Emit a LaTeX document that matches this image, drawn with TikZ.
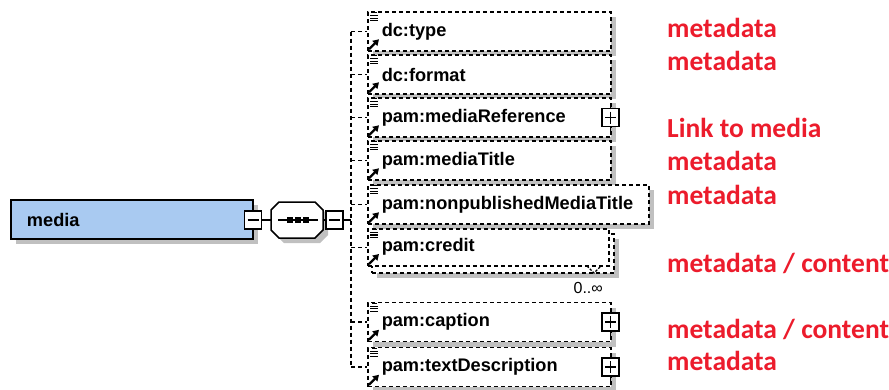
\documentclass[tikz,border=0pt]{standalone}
\usepackage{fontspec}
\setmainfont{Liberation Sans}
\newfontfamily\redfont{Carlito}
\usetikzlibrary{shadows,arrows.meta}
\definecolor{mediablue}{RGB}{169,202,241}
\definecolor{shadowgray}{RGB}{192,192,192}
\definecolor{notered}{RGB}{236,28,44}
\begin{document}
\begin{tikzpicture}[x=1pt,y=-1pt,
  shad/.style={drop shadow={shadow xshift=5pt,shadow yshift=-5pt,fill=shadowgray,opacity=1}},
  kid/.style={draw, fill=white, line width=1.5pt, dash pattern=on 4pt off 3pt,
    minimum height=39pt, text width=#1, inner xsep=14pt, inner ysep=0pt, align=left,
    anchor=west, font=\fontsize{18.2}{20}\selectfont\bfseries},
  mediabox/.style={draw, fill=mediablue, line width=1.8pt, minimum height=39pt,
    text width=210pt, inner xsep=16pt, inner ysep=0pt, align=left,
    font=\fontsize{18.2}{20}\selectfont\bfseries, shad},
  minusbox/.style={draw, fill=white, line width=1.5pt, minimum width=17pt, minimum height=18pt, inner sep=0pt,
    path picture={\draw[line width=1.4pt] ([xshift=3pt]path picture bounding box.west) -- ([xshift=-3pt]path picture bounding box.east);}},
  plusbox/.style={minusbox,
    path picture={\draw[line width=1.4pt] ([xshift=3pt]path picture bounding box.west) -- ([xshift=-3pt]path picture bounding box.east);
      \draw[line width=1.4pt] ([yshift=-3pt]path picture bounding box.north) -- ([yshift=3pt]path picture bounding box.south);}},
  conn/.style={line width=1.4pt, dash pattern=on 4pt off 3pt},
  solidln/.style={line width=1.5pt},
  redlbl/.style={anchor=base west, inner sep=0pt, text=notered, font=\redfont\bfseries\fontsize{27.5}{30}\selectfont},
]
\useasboundingbox (0,0) rectangle (889,389);

% root element
\node[mediabox] (media) at (132,219.5) {media};
\node[minusbox] (m1) at (253,220) {};

% sequence compositor
\fill[shadowgray] (284,207) -- (320,207) -- (328,215) -- (328,235) -- (320,243) -- (284,243) -- (276,235) -- (276,215) -- cycle;
\draw[solidln, fill=white] (279,202) -- (315,202) -- (323,210) -- (323,230) -- (315,238) -- (279,238) -- (271,230) -- (271,210) -- cycle;
\node[minimum width=52pt, minimum height=36pt, inner sep=0pt] (seq) at (297,220) {};
\draw[solidln] (278,220) -- (318,220);
\foreach \xx in {290,298,306} \fill (\xx-3,217) rectangle (\xx+3,223);
\node[minusbox] (m2) at (334.5,220) {};
\coordinate (hub) at (351,220);

\draw[solidln] (m1.east) -- (seq.west);
\draw[solidln] (seq.east) -- (m2.west);
\draw[solidln] (m2.east) -- (hub);

% children
\node[kid=215pt, shad] (t1) at (367,31.5) {dc:type};
\node[kid=215pt, shad] (t2) at (367,74.5) {dc:format};
\node[kid=215pt, shad] (t3) at (367,117.5) {pam:mediaReference};
\node[kid=215pt, shad] (t4) at (367,160.5) {pam:mediaTitle};
\node[kid=253pt, shad] (t5) at (367,204.5) {pam:nonpublishedMediaTitle};
\node[kid=214pt, shad, anchor=north west] (cb) at (371,233) {};
\node[kid=213pt, anchor=north west, minimum height=37pt] (cf) at (367,228) {pam:credit};
\node[kid=215pt, shad] (t7) at (367,322) {pam:caption};
\node[kid=215pt, shad] (t8) at (367,367) {pam:textDescription};

% multiplicity
\draw[conn, line width=1.2pt, dash pattern=on 2.5pt off 1.5pt] (587,266) -- (594,273) -- (601,266);
\node[anchor=base east, inner sep=0pt, font=\fontsize{16}{18}\selectfont] (occ) at (603,293) {0..∞};

% plus boxes
\foreach \k in {t3,t7,t8} {
  \draw[solidln] ([shift={(-1,-14)}]\k.east) -- ([shift={(-1,14)}]\k.east);
  \node[plusbox] (p\k) at ([xshift=-1pt]\k.east) {};
}

% icons
\foreach \k in {t1,t2,t3,t4,t5,cf,t7,t8} {
  \draw[line width=1.1pt] ([shift={(5,1.5)}]\k.north west) -- ++(5,0)
    ([shift={(3,4.5)}]\k.north west) -- ++(8,0)
    ([shift={(3,7)}]\k.north west) -- ++(8,0)
    ([shift={(3,9.5)}]\k.north west) -- ++(8,0);
  \draw[line width=2.2pt, -{Triangle[length=6pt,width=7pt]}] ([shift={(2,-2.5)}]\k.south west) -- ++(10,-10);
}

% connectors
\draw[conn] (t1.west -| hub) -- (t8.west -| hub);
\foreach \k in {t1,t2,t3,t4,t5,cf,t7,t8} \draw[conn] (\k.west -| hub) -- (\k.west);

% red annotations
\node[redlbl] (r1) at (667,37) {metadata};
\node[redlbl] (r2) at (667,70) {metadata};
\node[redlbl] (r3) at (667,137) {Link to media};
\node[redlbl] (r4) at (667,170) {metadata};
\node[redlbl] (r5) at (667,204) {metadata};
\node[redlbl] (r6) at (667,272) {metadata / content};
\node[redlbl] (r7) at (667,338) {metadata / content};
\node[redlbl] (r8) at (667,370) {metadata};
\end{tikzpicture}
\end{document}
